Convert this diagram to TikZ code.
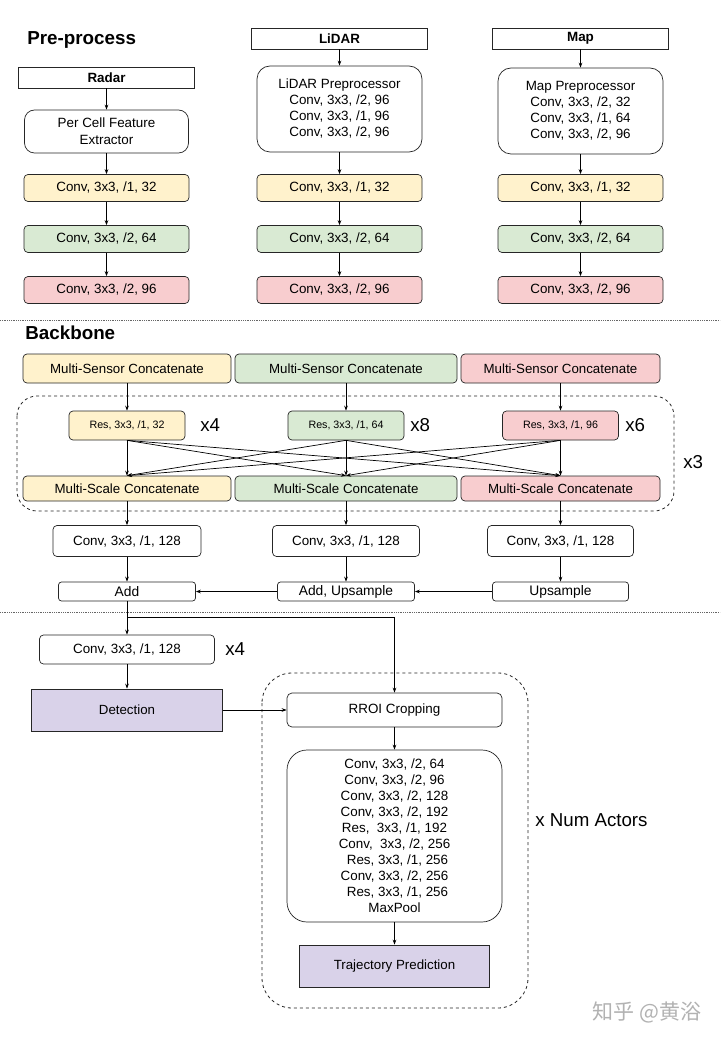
\documentclass[tikz,border=0pt]{standalone}
\usepackage{fontspec}
\setmainfont{Liberation Sans}
\newfontfamily\cjk{Noto Sans CJK SC}
\usetikzlibrary{arrows.meta}
\definecolor{cvang}{HTML}{FFF2CC}
\definecolor{cxanh}{HTML}{D9EAD3}
\definecolor{cdo}{HTML}{F8CDCF}
\definecolor{ctim}{HTML}{D9D2E9}
\begin{document}
\begin{tikzpicture}[x=1pt, y=-1pt, line width=0.7pt, >={Stealth[length=5pt, width=3.6pt]},
  header/.style={draw=black!85, inner sep=0pt, minimum width=176, minimum height=21, font=\bfseries\fontsize{13.4}{15}\selectfont},
  layer/.style={draw=black!85, rounded corners=4pt, inner sep=0pt, align=center, font=\fontsize{13.4}{16}\selectfont},
  conv/.style={layer, minimum width=165, minimum height=27},
  ms/.style={layer, font=\fontsize{13.3}{16}\selectfont},
  res/.style={layer, font=\fontsize{10.7}{12}\selectfont, minimum width=116, minimum height=29},
  plain/.style={draw=black!85, inner sep=0pt, align=center, font=\fontsize{13.3}{16}\selectfont},
  tag/.style={anchor=west, inner sep=0pt, font=\fontsize{18.7}{20}\selectfont},
  sect/.style={anchor=west, inner sep=0pt, font=\bfseries\fontsize{18.8}{20}\selectfont},
  sep/.style={black!60, densely dotted, line width=0.8pt},
  group/.style={draw=black!85, dashed, line width=0.8pt}]
				\useasboundingbox (0,0) rectangle (720,1040);
				\fill[white] (0,0) rectangle (720,1040);
				
				% Tiền xử lý: ba cột Radar, LiDAR, Map
				\node[sect] at (27,40) {Pre-process};
				\node[header] (radar) at (106.5,77.5) {Radar};
				\node[header] (lidar) at (339.5,38.5) {LiDAR};
				\node[header] (map) at (580.5,38.5) {Map};
				
				\node[layer, rounded corners=10pt, minimum width=164, minimum height=43, font=\fontsize{13.4}{17}\selectfont] (cell) at (106.5,131.5) {Per Cell Feature\\Extractor};
				\node[layer, rounded corners=13pt, minimum width=165, minimum height=86] (lpre) at (339.5,109) {LiDAR Preprocessor\\Conv, 3x3, /2, 96\\Conv, 3x3, /1, 96\\Conv, 3x3, /2, 96};
				\node[layer, rounded corners=13pt, minimum width=165, minimum height=86] (mpre) at (580.5,111) {Map Preprocessor\\Conv, 3x3, /2, 32\\Conv, 3x3, /1, 64\\Conv, 3x3, /2, 96};
				
				\node[conv, fill=cvang] (r1) at (106.5,188) {Conv, 3x3, /1, 32};
				\node[conv, fill=cxanh] (r2) at (106.5,239) {Conv, 3x3, /2, 64};
				\node[conv, fill=cdo] (r3) at (106.5,290) {Conv, 3x3, /2, 96};
				\node[conv, fill=cvang] (l1) at (339.5,188) {Conv, 3x3, /1, 32};
				\node[conv, fill=cxanh] (l2) at (339.5,239) {Conv, 3x3, /2, 64};
				\node[conv, fill=cdo] (l3) at (339.5,290) {Conv, 3x3, /2, 96};
				\node[conv, fill=cvang] (m1) at (580.5,188) {Conv, 3x3, /1, 32};
				\node[conv, fill=cxanh] (m2) at (580.5,239) {Conv, 3x3, /2, 64};
				\node[conv, fill=cdo] (m3) at (580.5,290) {Conv, 3x3, /2, 96};
				
				\draw[->] (radar) -- (cell);
				\draw[->] (cell) -- (r1);
				\draw[->] (r1) -- (r2);
				\draw[->] (r2) -- (r3);
				\draw[->] (lidar) -- (lpre);
				\draw[->] (lpre) -- (l1);
				\draw[->] (l1) -- (l2);
				\draw[->] (l2) -- (l3);
				\draw[->] (map) -- (mpre);
				\draw[->] (mpre) -- (m1);
				\draw[->] (m1) -- (m2);
				\draw[->] (m2) -- (m3);
				
				\draw[sep] (0,320) -- (720,320);
				
				% Backbone
				\node[sect] at (25,333) {Backbone};
				\node[ms, fill=cvang, minimum width=208, minimum height=29] (ms1) at (127,368.5) {Multi-Sensor Concatenate};
				\node[ms, fill=cxanh, minimum width=222, minimum height=29] (ms2) at (346,368.5) {Multi-Sensor Concatenate};
				\node[ms, fill=cdo, minimum width=199, minimum height=29] (ms3) at (560.5,368.5) {Multi-Sensor Concatenate};
				
				\draw[group, rounded corners=20pt] (17,396) rectangle (674,511);
				
				\node[res, fill=cvang] (res1) at (127,425.5) {Res, 3x3, /1, 32};
				\node[res, fill=cxanh] (res2) at (346,425.5) {Res, 3x3, /1, 64};
				\node[res, fill=cdo] (res3) at (560.5,425.5) {Res, 3x3, /1, 96};
				\node[tag] at (200,425) {x4};
				\node[tag] at (410,425) {x8};
				\node[tag] at (625,425) {x6};
				\node[tag] at (683,462) {x3};
				
				\node[ms, fill=cvang, minimum width=208, minimum height=25] (msc1) at (127,488.5) {Multi-Scale Concatenate};
				\node[ms, fill=cxanh, minimum width=222, minimum height=25] (msc2) at (346,488.5) {Multi-Scale Concatenate};
				\node[ms, fill=cdo, minimum width=199, minimum height=25] (msc3) at (560.5,488.5) {Multi-Scale Concatenate};
				
				\draw[->] (ms1) -- (res1);
				\draw[->] (ms2) -- (res2);
				\draw[->] (ms3) -- (res3);
				% mỗi Res nối tới cả ba Multi-Scale
				\draw[->] (res1.south) -- (msc1.north);
				\draw[->] (res1.south) -- (msc2.north);
				\draw[->] (res1.south) -- (msc3.north);
				\draw[->] (res2.south) -- (msc1.north);
				\draw[->] (res2.south) -- (msc2.north);
				\draw[->] (res2.south) -- (msc3.north);
				\draw[->] (res3.south) -- (msc1.north);
				\draw[->] (res3.south) -- (msc2.north);
				\draw[->] (res3.south) -- (msc3.north);
				
				\node[layer, minimum width=148, minimum height=31] (c1) at (127,541) {Conv, 3x3, /1, 128};
				\node[layer, minimum width=147, minimum height=31] (c2) at (346,541) {Conv, 3x3, /1, 128};
				\node[layer, minimum width=146, minimum height=31] (c3) at (560.5,541) {Conv, 3x3, /1, 128};
				\node[layer, rounded corners=3pt, minimum width=137, minimum height=19, font=\fontsize{13.8}{16}\selectfont] (a1) at (127,591.5) {Add};
				\node[layer, rounded corners=3pt, minimum width=137, minimum height=19, font=\fontsize{13.8}{16}\selectfont] (a2) at (346,591.5) {Add, Upsample};
				\node[layer, rounded corners=3pt, minimum width=136, minimum height=19, font=\fontsize{13.8}{16}\selectfont] (a3) at (560.5,591.5) {Upsample};
				
				\draw[->] (msc1) -- (c1);
				\draw[->] (msc2) -- (c2);
				\draw[->] (msc3) -- (c3);
				\draw[->] (c1) -- (a1);
				\draw[->] (c2) -- (a2);
				\draw[->] (c3) -- (a3);
				\draw[->] (a3) -- (a2);
				\draw[->] (a2) -- (a1);
				
				\draw[sep] (0,612) -- (720,612);
				
				% Phát hiện và dự đoán quỹ đạo
				\node[layer, minimum width=175, minimum height=29] (head) at (127,649.5) {Conv, 3x3, /1, 128};
				\node[tag] at (225,649) {x4};
				\node[plain, fill=ctim, minimum width=191, minimum height=42] (det) at (127,710) {Detection};
				
				\draw[group, rounded corners=30pt] (262,673) rectangle (528,1008);
				\node[layer, rounded corners=5pt, minimum width=215, minimum height=34] (rroi) at (394.5,710) {RROI Cropping};
				\node[layer, rounded corners=20pt, minimum width=215, minimum height=172] (feat) at (394.5,836) {Conv, 3x3, /2, 64\\Conv, 3x3, /2, 96\\Conv, 3x3, /2, 128\\Conv, 3x3, /2, 192\\Res,\ \ 3x3, /1, 192\\Conv,\ \ 3x3, /2, 256\\\hspace*{6pt}Res, 3x3, /1, 256\\Conv, 3x3, /2, 256\\\hspace*{6pt}Res, 3x3, /1, 256\\MaxPool};
				\node[plain, fill=ctim, minimum width=190, minimum height=42] (traj) at (394.5,966) {Trajectory Prediction};
				\node[tag] at (535,820) {x Num Actors};
				
				\coordinate (tach) at (127,617);
				\draw[->] (a1) -- (head);
				\draw[->] (tach) -| (rroi);
				\draw[->] (head) -- (det);
				\draw[->] (det) -- (rroi);
				\draw[->] (rroi) -- (feat);
				\draw[->] (feat) -- (traj);
				
				\node[text=black!30, font=\cjk\fontsize{21}{23}\selectfont] at (647,1012) {知乎 @黄浴};
			\end{tikzpicture}
\end{document}
